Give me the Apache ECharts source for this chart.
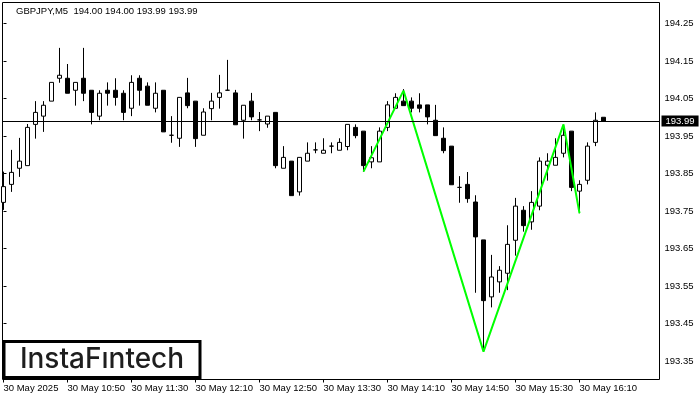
<!DOCTYPE html>
<html><head><meta charset="utf-8">
<script src="https://cdn.jsdelivr.net/npm/echarts@6/dist/echarts.min.js"></script>
<style>html,body{margin:0;padding:0;background:#fff}#c{width:700px;height:400px}</style>
</head><body><div id="c"></div>
<script>
const symbol = 'GBPJPY';
const timeframe = 'M5';
const open = [193.773,193.821,193.864,193.871,193.981,194.003,194.043,194.104,194.104,194.072,
  194.104,194.072,194.003,194.072,194.072,194.064,194.024,194.104,194.083,194.024,
  194.072,193.952,193.944,194.065,194.043,193.952,194.023,194.053,194.072,194.065,
  193.992,194.043,193.993,193.982,194.013,193.864,193.883,193.801,193.883,193.913,
  193.904,193.923,193.912,193.922,193.973,193.963,193.881,193.881,193.973,194.024,
  194.043,194.043,194.033,194.033,193.992,193.944,193.923,193.813,193.821,193.774,
  193.673,193.521,193.561,193.584,193.672,193.752,193.721,193.763,193.872,193.872,
  193.904,193.963,193.803,193.832,193.933,194.00];
const high = [193.855,193.913,193.945,193.982,194.043,194.043,194.093,194.185,194.142,194.093,
  194.185,194.072,194.072,194.093,194.104,194.072,194.112,194.112,194.093,194.093,
  194.072,194.003,194.053,194.105,194.043,194.024,194.065,194.113,194.153,194.073,
  194.032,194.065,194.014,194.003,194.013,193.923,193.883,193.893,193.933,193.933,
  193.944,193.933,193.944,193.981,193.981,193.963,193.923,193.973,194.043,194.064,
  194.075,194.053,194.064,194.033,194.033,193.973,193.923,193.843,193.854,193.792,
  193.673,193.633,193.603,193.712,193.785,193.763,193.803,193.893,193.904,193.944,
  193.980,193.963,193.832,193.933,194.013,194.00];
const low = [193.753,193.801,193.841,193.871,193.943,193.961,194.043,194.092,194.064,194.031,
  194.043,193.981,193.992,194.031,194.031,193.992,194.003,194.031,194.032,194.013,
  193.961,193.932,193.921,194.024,193.921,193.952,193.992,194.023,194.072,193.980,
  193.943,193.992,193.963,193.972,193.864,193.864,193.791,193.791,193.883,193.904,
  193.904,193.904,193.912,193.912,193.944,193.855,193.864,193.881,193.963,194.024,
  194.031,194.013,194.013,193.981,193.951,193.904,193.820,193.772,193.772,193.532,
  193.375,193.493,193.532,193.539,193.631,193.695,193.700,193.752,193.831,193.872,
  193.893,193.803,193.744,193.821,193.923,193.99];
const close = [193.815,193.853,193.883,193.973,194.013,194.032,194.093,194.112,194.064,194.093,
  194.064,194.013,194.064,194.064,194.053,194.013,194.093,194.072,194.032,194.064,
  193.961,193.952,194.053,194.031,193.943,194.014,194.043,194.065,194.072,193.980,
  194.032,194.001,193.993,194.003,193.871,193.893,193.791,193.893,193.904,193.913,
  193.912,193.923,193.933,193.981,193.951,193.871,193.892,193.963,194.033,194.053,
  194.031,194.024,194.024,194.001,193.951,193.911,193.820,193.813,193.783,193.681,
  193.511,193.574,193.592,193.661,193.763,193.711,193.773,193.883,193.883,193.893,
  193.952,193.813,193.821,193.923,193.992,193.99];
const xTickIndex = [0,8,16,24,32,40,48,56,64,72];
const xTickLabels = ['30 May 2025','30 May 10:50','30 May 11:30','30 May 12:10','30 May 12:50',
  '30 May 13:30','30 May 14:10','30 May 14:50','30 May 15:30','30 May 16:10'];
const yTickValues = [193.35,193.45,193.55,193.65,193.75,193.85,193.95,194.05,194.15,194.25];
const bidPrice = 193.99;
const zigzagIndex = [45,50,60,70,72];
const zigzagPrice = [193.855,194.071,193.375,193.981,193.744];
const logoText = 'InstaFıntech';

const FONT = '"Liberation Sans", Arial, sans-serif';
const candles = open.map((o, i) => [i, o, close[i], low[i], high[i]]);
const zigzag = zigzagIndex.map((x, i) => [x, zigzagPrice[i]]);
const last = open.length - 1;
const titleText = symbol + ',' + timeframe + '  ' +
  [open[last], high[last], low[last], close[last]].map(v => v.toFixed(2)).join(' ');

const chart = echarts.init(document.getElementById('c'), null, {renderer: 'canvas'});
chart.setOption({
  animation: false,
  backgroundColor: '#fff',
  title: {text: titleText, left: 16, top: 6, padding: 0,
    textStyle: {fontSize: 9.5, fontWeight: 'normal', color: '#000', fontFamily: FONT}},
  grid: {left: 2.5, right: 40.5, top: 2.5, bottom: 20.5, show: true,
    borderColor: '#000', borderWidth: 1, backgroundColor: '#fff'},
  xAxis: {
    type: 'value', min: -0.125, max: 82,
    axisLine: {show: false}, splitLine: {show: false},
    axisTick: {show: true, inside: false, length: 3, lineStyle: {color: '#000'}, customValues: xTickIndex},
    axisLabel: {customValues: xTickIndex, align: 'left', margin: 4, fontSize: 9.5, color: '#000', fontFamily: FONT,
      formatter: v => { const k = xTickIndex.indexOf(Math.round(v)); return k >= 0 ? xTickLabels[k] : ''; }}
  },
  yAxis: {
    type: 'value', position: 'right', min: 193.30067, max: 194.306,
    axisLine: {show: false}, splitLine: {show: false},
    axisTick: {show: true, inside: false, length: 3, lineStyle: {color: '#000'}, customValues: yTickValues},
    axisLabel: {customValues: yTickValues, margin: 5, fontSize: 9.5, color: '#000', fontFamily: FONT,
      formatter: v => v.toFixed(2)}
  },
  series: [
    {type: 'line', data: [[0, bidPrice]], symbol: 'none', z: 1, silent: true,
      lineStyle: {width: 0},
      markLine: {silent: true, symbol: ['none', 'none'], animation: false,
        data: [{yAxis: bidPrice}],
        lineStyle: {color: '#000', width: 1, type: 'solid'},
        emphasis: {disabled: true},
        label: {show: true, position: 'end', distance: 2, formatter: bidPrice.toFixed(2),
          color: '#fff', backgroundColor: '#000', padding: [1, 4, 0, 4],
          fontSize: 9.5, fontFamily: FONT}}},
    {type: 'candlestick', data: candles, barWidth: 4, z: 2, silent: true,
      itemStyle: {color: '#fff', color0: '#000', borderColor: '#000', borderColor0: '#000', borderWidth: 1}},
    {type: 'line', data: zigzag, z: 3, symbol: 'none', silent: true,
      lineStyle: {color: '#00ff00', width: 2}}
  ],
  graphic: [
    {type: 'rect', z: 100, shape: {x: 4, y: 341.5, width: 196, height: 36},
      style: {fill: '#fff', stroke: '#000', lineWidth: 3}},
    {type: 'text', z: 101, x: 102, y: 359.5,
      style: {text: logoText, fontSize: 28, fontFamily: 'Inter', fontWeight: 500, fill: '#1e1e1e',
        align: 'center', verticalAlign: 'middle'}}
  ]
});
</script>
</body></html>
